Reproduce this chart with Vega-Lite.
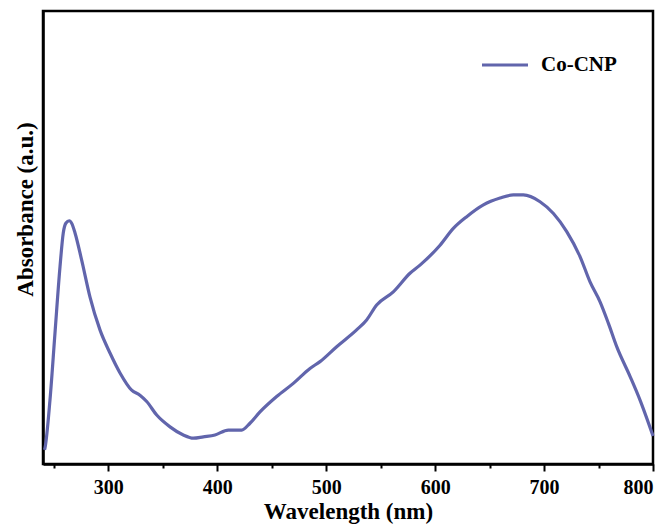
{
  "$schema": "https://vega.github.io/schema/vega-lite/v6.json",
  "width": 610,
  "height": 453,
  "autosize": "none",
  "padding": {"left": 43, "top": 11, "right": 10, "bottom": 68},
  "background": "white",
  "config": {
    "view": {"stroke": "black", "strokeWidth": 2.5},
    "font": "Liberation Serif"
  },
  "data": {
    "values": [
      {"wl": 241.4, "a": 0.031, "s": "Co-CNP"},
      {"wl": 241.8, "a": 0.035, "s": "Co-CNP"},
      {"wl": 246.4, "a": 0.141, "s": "Co-CNP"},
      {"wl": 251.0, "a": 0.289, "s": "Co-CNP"},
      {"wl": 255.6, "a": 0.435, "s": "Co-CNP"},
      {"wl": 258.6, "a": 0.510, "s": "Co-CNP"},
      {"wl": 261.1, "a": 0.532, "s": "Co-CNP"},
      {"wl": 264.1, "a": 0.537, "s": "Co-CNP"},
      {"wl": 266.6, "a": 0.530, "s": "Co-CNP"},
      {"wl": 269.4, "a": 0.510, "s": "Co-CNP"},
      {"wl": 275.5, "a": 0.450, "s": "Co-CNP"},
      {"wl": 283.1, "a": 0.369, "s": "Co-CNP"},
      {"wl": 292.3, "a": 0.296, "s": "Co-CNP"},
      {"wl": 301.5, "a": 0.245, "s": "Co-CNP"},
      {"wl": 310.7, "a": 0.201, "s": "Co-CNP"},
      {"wl": 321.4, "a": 0.163, "s": "Co-CNP"},
      {"wl": 329.0, "a": 0.152, "s": "Co-CNP"},
      {"wl": 335.2, "a": 0.138, "s": "Co-CNP"},
      {"wl": 344.4, "a": 0.108, "s": "Co-CNP"},
      {"wl": 356.6, "a": 0.082, "s": "Co-CNP"},
      {"wl": 368.8, "a": 0.064, "s": "Co-CNP"},
      {"wl": 378.0, "a": 0.057, "s": "Co-CNP"},
      {"wl": 387.2, "a": 0.060, "s": "Co-CNP"},
      {"wl": 397.9, "a": 0.064, "s": "Co-CNP"},
      {"wl": 410.1, "a": 0.075, "s": "Co-CNP"},
      {"wl": 422.4, "a": 0.075, "s": "Co-CNP"},
      {"wl": 430.0, "a": 0.090, "s": "Co-CNP"},
      {"wl": 439.2, "a": 0.115, "s": "Co-CNP"},
      {"wl": 454.5, "a": 0.149, "s": "Co-CNP"},
      {"wl": 469.8, "a": 0.178, "s": "Co-CNP"},
      {"wl": 485.1, "a": 0.211, "s": "Co-CNP"},
      {"wl": 494.3, "a": 0.226, "s": "Co-CNP"},
      {"wl": 509.6, "a": 0.259, "s": "Co-CNP"},
      {"wl": 527.9, "a": 0.296, "s": "Co-CNP"},
      {"wl": 537.1, "a": 0.318, "s": "Co-CNP"},
      {"wl": 546.3, "a": 0.351, "s": "Co-CNP"},
      {"wl": 561.6, "a": 0.380, "s": "Co-CNP"},
      {"wl": 576.9, "a": 0.421, "s": "Co-CNP"},
      {"wl": 586.1, "a": 0.439, "s": "Co-CNP"},
      {"wl": 604.5, "a": 0.483, "s": "Co-CNP"},
      {"wl": 616.7, "a": 0.520, "s": "Co-CNP"},
      {"wl": 629.0, "a": 0.546, "s": "Co-CNP"},
      {"wl": 644.3, "a": 0.572, "s": "Co-CNP"},
      {"wl": 659.6, "a": 0.587, "s": "Co-CNP"},
      {"wl": 671.8, "a": 0.594, "s": "Co-CNP"},
      {"wl": 681.0, "a": 0.594, "s": "Co-CNP"},
      {"wl": 696.3, "a": 0.579, "s": "Co-CNP"},
      {"wl": 708.6, "a": 0.553, "s": "Co-CNP"},
      {"wl": 720.8, "a": 0.513, "s": "Co-CNP"},
      {"wl": 733.0, "a": 0.458, "s": "Co-CNP"},
      {"wl": 742.2, "a": 0.402, "s": "Co-CNP"},
      {"wl": 751.4, "a": 0.358, "s": "Co-CNP"},
      {"wl": 759.0, "a": 0.311, "s": "Co-CNP"},
      {"wl": 766.7, "a": 0.259, "s": "Co-CNP"},
      {"wl": 779.0, "a": 0.193, "s": "Co-CNP"},
      {"wl": 788.1, "a": 0.141, "s": "Co-CNP"},
      {"wl": 800.0, "a": 0.062, "s": "Co-CNP"}
    ]
  },
  "layer": [
    {
      "mark": {"type": "line", "interpolate": "monotone", "strokeWidth": 3.2},
      "encoding": {
        "x": {
          "field": "wl", "type": "quantitative",
          "scale": {"domain": [240, 800], "nice": false, "zero": false},
          "axis": {
            "title": "Wavelength (nm)",
            "titleFont": "Liberation Serif", "titleFontSize": 23, "titleFontWeight": "bold", "titleColor": "black",
            "titlePadding": 3,
            "values": [300, 400, 500, 600, 700, 800],
            "labelFont": "Liberation Serif", "labelFontSize": 20, "labelFontWeight": "bold", "labelColor": "black",
            "labelPadding": 6,
            "tickColor": "black", "tickWidth": 2, "tickSize": 7,
            "domainColor": "black", "domainWidth": 2.5,
            "grid": false
          }
        },
        "y": {
          "field": "a", "type": "quantitative",
          "scale": {"domain": [0, 1], "nice": false},
          "axis": {
            "title": "Absorbance (a.u.)",
            "titleFont": "Liberation Serif", "titleFontSize": 23, "titleFontWeight": "bold", "titleColor": "black",
            "titlePadding": 6,
            "titleY": 198,
            "labels": false, "ticks": false, "grid": false,
            "domainColor": "black", "domainWidth": 2.5
          }
        },
        "color": {
          "field": "s", "type": "nominal",
          "scale": {"range": ["#6165AC"]},
          "legend": {
            "title": null,
            "orient": "none", "legendX": 437, "legendY": 29,
            "symbolType": "stroke", "symbolSize": 2116, "symbolStrokeWidth": 3.2,
            "labelFont": "Liberation Serif", "labelFontSize": 21, "labelFontWeight": "bold", "labelColor": "black",
            "labelOffset": 11
          }
        }
      }
    },
    {
      "mark": {"type": "line", "opacity": 0},
      "encoding": {
        "x": {
          "field": "wl", "type": "quantitative",
          "axis": {
            "orient": "bottom", "title": null, "labels": false, "domain": false, "grid": false,
            "values": [250, 350, 450, 550, 650, 750],
            "tickColor": "black", "tickWidth": 2, "tickSize": 4
          }
        },
        "y": {"field": "a", "type": "quantitative"}
      }
    }
  ],
  "resolve": {"axis": {"x": "independent"}}
}
